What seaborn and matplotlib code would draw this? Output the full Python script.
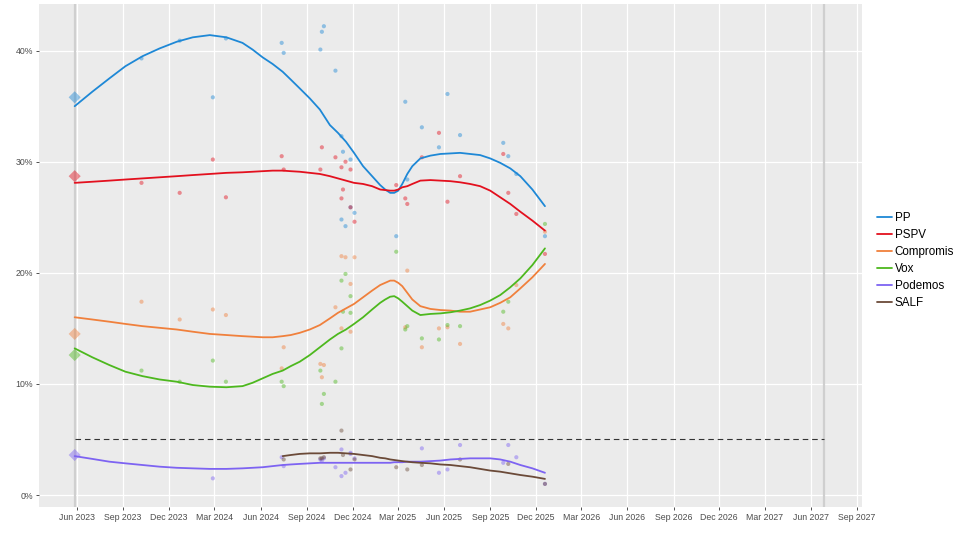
import numpy as np
import pandas as pd
import matplotlib
matplotlib.use("Agg")
import matplotlib.pyplot as plt
import matplotlib.dates as mdates
from matplotlib.ticker import FuncFormatter, MultipleLocator
import seaborn as sns

# ---------------- data ----------------
parties = ["PP", "PSPV", "Compromis", "Vox", "Podemos", "SALF"]
party_colors = ["#1E88D6", "#E3101E", "#F0803C", "#4DB81E", "#7D63F2", "#6B4A38"]

election_date = "2023-05-28"
election_values = [35.8, 28.7, 14.5, 12.6, 3.6, np.nan]
next_election_date = "2027-06-27"
threshold = 5.0

poll_dates = ["2023-10-08", "2023-12-23", "2024-02-27", "2024-03-24", "2024-07-13",
              "2024-07-17", "2024-09-28", "2024-10-01", "2024-10-05", "2024-10-28",
              "2024-11-09", "2024-11-09", "2024-11-12", "2024-11-17", "2024-11-27",
              "2024-11-27", "2024-12-05", "2025-02-26", "2025-03-16", "2025-03-20",
              "2025-04-18", "2025-05-22", "2025-06-08", "2025-07-03", "2025-09-27",
              "2025-10-07", "2025-10-23", "2025-12-19"]
poll_pp = [39.3, 40.9, 35.8, 41.1, 40.7, 39.8, 40.1, 41.7, 42.2, 38.2, 32.3, 24.8, 30.9, 24.2,
           30.2, 25.9, 25.4, 23.3, 35.4, 28.4, 33.1, 31.3, 36.1, 32.4, 31.7, 30.5, 28.9, 23.3]
poll_pspv = [28.1, 27.2, 30.2, 26.8, 30.5, 29.3, 29.3, 31.3, np.nan, 30.4, 26.7, 29.5, 27.5, 30.0,
             29.3, 25.9, 24.6, 27.9, 26.7, 26.2, 30.4, 32.6, 26.4, 28.7, 30.7, 27.2, 25.3, 21.7]
poll_comp = [17.4, 15.8, 16.7, 16.2, 11.4, 13.3, 11.8, 10.6, 11.7, 16.9, 15.0, 21.5, np.nan, 21.4,
             14.7, 19.0, 21.4, np.nan, 15.1, 20.2, 13.3, 15.0, 15.1, 13.6, 15.4, 15.0, 18.9, 23.7]
poll_vox = [11.2, 10.2, 12.1, 10.2, 10.2, 9.8, 11.2, 8.2, 9.1, 10.2, 19.3, 13.2, 16.5, 19.9,
            17.9, 16.4, np.nan, 21.9, 14.9, 15.2, 14.1, 14.0, 15.3, 15.2, 16.5, 17.4, np.nan, 24.4]
poll_podemos = [np.nan, np.nan, 1.5, np.nan, 3.4, 2.6, 3.2, 3.1, 3.3, 2.5, 4.1, 1.7, np.nan, 2.0,
                3.8, 3.7, 3.3, np.nan, np.nan, np.nan, 4.2, 2.0, 2.3, 4.5, 2.9, 4.5, 3.4, 1.0]
poll_salf = [np.nan, np.nan, np.nan, np.nan, np.nan, 3.2, 3.3, 3.3, 3.4, np.nan, 5.8, np.nan, 3.6,
             np.nan, 2.3, np.nan, 3.2, 2.5, np.nan, 2.3, 2.7, np.nan, np.nan, 3.2, np.nan, 2.8,
             np.nan, 1.0]

trend_dates = ["2023-05-28", "2023-07-02", "2023-08-05", "2023-09-06", "2023-10-10",
               "2023-11-13", "2023-12-17", "2024-01-18", "2024-02-21", "2024-03-25",
               "2024-04-26", "2024-05-16", "2024-06-05", "2024-06-25", "2024-07-15",
               "2024-07-31", "2024-08-18", "2024-09-07", "2024-09-27", "2024-10-17",
               "2024-11-02", "2024-11-18", "2024-12-04", "2024-12-22", "2025-01-09",
               "2025-01-25", "2025-02-04", "2025-02-14", "2025-02-22", "2025-03-02",
               "2025-03-10", "2025-03-20", "2025-03-30", "2025-04-15", "2025-05-05",
               "2025-05-25", "2025-06-14", "2025-07-03", "2025-07-23", "2025-08-12",
               "2025-09-01", "2025-09-21", "2025-10-11", "2025-10-31", "2025-11-24",
               "2025-12-19"]
trend_pp = [35.0, 36.3, 37.5, 38.6, 39.5, 40.2, 40.8, 41.2, 41.4, 41.2,
            40.7, 40.1, 39.4, 38.8, 38.1, 37.4, 36.6, 35.7, 34.7, 33.3,
            32.6, 31.8, 30.8, 29.6, 28.7, 27.9, 27.5, 27.2, 27.2, 27.4,
            28.0, 28.9, 29.6, 30.3, 30.55, 30.7, 30.75, 30.8, 30.7, 30.6,
            30.3, 29.9, 29.4, 28.7, 27.5, 26.0]
trend_pspv = [28.1, 28.2, 28.3, 28.4, 28.5, 28.6, 28.7, 28.8, 28.9, 29.0,
              29.05, 29.1, 29.15, 29.2, 29.2, 29.15, 29.1, 29.0, 28.9, 28.7,
              28.5, 28.3, 28.1, 28.0, 27.8, 27.5, 27.45, 27.4, 27.4, 27.5,
              27.7, 27.8, 28.0, 28.3, 28.35, 28.3, 28.25, 28.15, 28.0, 27.8,
              27.4, 26.8, 26.2, 25.5, 24.7, 23.8]
trend_comp = [16.0, 15.8, 15.6, 15.4, 15.2, 15.05, 14.9, 14.7, 14.5, 14.4,
              14.3, 14.25, 14.2, 14.2, 14.3, 14.4, 14.6, 14.9, 15.3, 15.9,
              16.4, 16.8, 17.2, 17.8, 18.4, 18.9, 19.1, 19.3, 19.3, 19.1,
              18.8, 18.2, 17.6, 17.0, 16.75, 16.65, 16.6, 16.5, 16.5, 16.7,
              16.9, 17.3, 17.8, 18.6, 19.6, 20.8]
trend_vox = [13.2, 12.4, 11.7, 11.1, 10.7, 10.4, 10.2, 9.9, 9.75, 9.7,
             9.8, 10.1, 10.5, 10.9, 11.2, 11.6, 12.0, 12.6, 13.3, 14.0,
             14.5, 14.9, 15.4, 16.0, 16.7, 17.3, 17.6, 17.85, 17.9, 17.7,
             17.4, 17.0, 16.6, 16.2, 16.3, 16.35, 16.45, 16.6, 16.8, 17.1,
             17.5, 18.0, 18.7, 19.5, 20.7, 22.2]
trend_podemos = [3.5, 3.25, 3.0, 2.85, 2.7, 2.55, 2.45, 2.4, 2.35, 2.35,
                 2.4, 2.45, 2.5, 2.6, 2.7, 2.75, 2.8, 2.85, 2.9, 2.9,
                 2.9, 2.9, 2.9, 2.9, 2.9, 2.9, 2.9, 2.9, 2.95, 2.95,
                 2.95, 3.0, 3.0, 3.0, 3.05, 3.1, 3.2, 3.25, 3.3, 3.3,
                 3.3, 3.2, 3.0, 2.7, 2.4, 2.0]
trend_salf = [np.nan] * 14 + [3.5, 3.6, 3.7, 3.75, 3.75, 3.8, 3.8, 3.75, 3.7, 3.6,
                              3.5, 3.35, 3.3, 3.2, 3.15, 3.1, 3.05, 3.0, 2.95, 2.9,
                              2.85, 2.75, 2.7, 2.6, 2.5, 2.35, 2.2, 2.1, 1.95, 1.8,
                              1.65, 1.45]

# ---------------- frames ----------------
poll_series = [poll_pp, poll_pspv, poll_comp, poll_vox, poll_podemos, poll_salf]
trend_series = [trend_pp, trend_pspv, trend_comp, trend_vox, trend_podemos, trend_salf]

polls = pd.concat([pd.DataFrame({"date": pd.to_datetime(poll_dates), "party": p, "value": v})
                   for p, v in zip(parties, poll_series)]).dropna()
trends = pd.concat([pd.DataFrame({"date": pd.to_datetime(trend_dates), "party": p, "value": v})
                    for p, v in zip(parties, trend_series)]).dropna()
election = pd.DataFrame({"date": pd.to_datetime([election_date] * len(parties)),
                         "party": parties, "value": election_values}).dropna()
palette = dict(zip(parties, party_colors))

# ---------------- plot ----------------
sns.set_theme(style="darkgrid")
plt.rcParams["font.family"] = ["Liberation Sans", "DejaVu Sans"]

fig = plt.figure(figsize=(9.6, 5.34), dpi=100)
ax = fig.add_axes([39 / 960, 1 - 507 / 534, (862 - 39) / 960, (507 - 4) / 534])
ax.set_facecolor("#EBEBEB")

ax.axvline(pd.Timestamp(election_date), color="#CFCFCF", lw=1.6, zorder=1)
ax.axvline(pd.Timestamp(next_election_date), color="#CFCFCF", lw=1.6, zorder=1)
ax.plot([pd.Timestamp(election_date), pd.Timestamp(next_election_date)], [threshold, threshold],
        color="#333333", lw=0.8, ls=(0, (5, 3.5)), zorder=2)

sns.scatterplot(data=polls, x="date", y="value", hue="party", palette=palette,
                hue_order=parties, s=9, alpha=0.45, linewidth=0, legend=False, ax=ax, zorder=3)
sns.scatterplot(data=election, x="date", y="value", hue="party", palette=palette,
                hue_order=parties, marker="D", s=38, alpha=0.45, linewidth=0, legend=False,
                ax=ax, zorder=3)
sns.lineplot(data=trends, x="date", y="value", hue="party", palette=palette,
             hue_order=parties, lw=1.3, ax=ax, zorder=4, sort=True)

ax.set_xlim(pd.Timestamp("2023-03-18"), pd.Timestamp("2027-09-11"))
ax.set_ylim(-1.08, 44.2)
ax.xaxis.set_major_locator(mdates.MonthLocator(bymonth=[3, 6, 9, 12]))
ax.xaxis.set_major_formatter(mdates.DateFormatter("%b %Y"))
ax.yaxis.set_major_locator(MultipleLocator(10))
ax.yaxis.set_major_formatter(FuncFormatter(lambda v, p: f"{v:.0f}%"))

ax.grid(which="major", color="white", lw=0.9)
ax.grid(which="minor", visible=False)
ax.tick_params(axis="both", which="major", length=2.5, width=0.6, color="#333333",
               labelsize=6.3, labelcolor="#4D4D4D", pad=2, bottom=True, left=True)
ax.set_xlabel("")
ax.set_ylabel("")
for s in ax.spines.values():
    s.set_visible(False)

leg = ax.legend(loc="center left", bbox_to_anchor=(1.005, 0.49), frameon=False,
                handlelength=1.3, handletextpad=0.25, labelspacing=0.42, fontsize=8.4)
for t in leg.get_texts():
    t.set_color("black")
for h in leg.get_lines():
    h.set_linewidth(1.3)

fig.savefig("out.png", dpi=100, facecolor="white")
